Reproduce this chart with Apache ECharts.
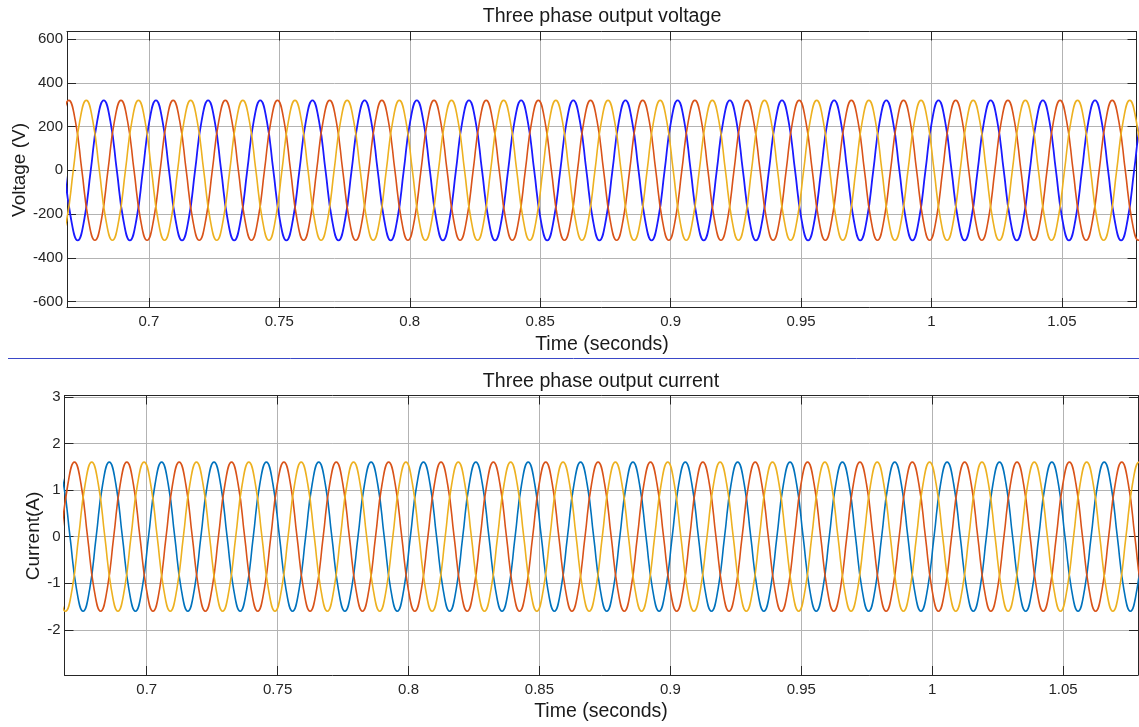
<!DOCTYPE html>
<html>
<head>
<meta charset="utf-8">
<script src="https://cdn.jsdelivr.net/npm/echarts@6/dist/echarts.min.js"></script>
<style>
html,body{margin:0;padding:0;background:#fff;}
#chart{width:1139px;height:727px;}
</style>
</head>
<body>
<div id="chart"></div>
<script>
// ---- Data: [time (s), value] ----
const xTicks = [0.7, 0.75, 0.8, 0.85, 0.9, 0.95, 1, 1.05];
const voltageTicks = [-600, -400, -200, 0, 200, 400, 600];
const currentTicks = [-2, -1, 0, 1, 2, 3];

// Three phase output voltage (V)
const voltageA = [
[0.6677,0],[0.6702,-226],[0.6727,-320],[0.6752,-226],[0.6777,0],[0.6802,226],[0.6827,320],[0.6852,226],
[0.6877,0],[0.6902,-226],[0.6927,-320],[0.6952,-226],[0.6977,0],[0.7002,226],[0.7027,320],[0.7052,226],
[0.7077,0],[0.7102,-226],[0.7127,-320],[0.7152,-226],[0.7177,0],[0.7202,226],[0.7227,320],[0.7252,226],
[0.7277,0],[0.7302,-226],[0.7327,-320],[0.7352,-226],[0.7377,0],[0.7402,226],[0.7427,320],[0.7452,226],
[0.7477,0],[0.7502,-226],[0.7527,-320],[0.7552,-226],[0.7577,0],[0.7602,226],[0.7627,320],[0.7652,226],
[0.7677,0],[0.7702,-226],[0.7727,-320],[0.7752,-226],[0.7777,0],[0.7802,226],[0.7827,320],[0.7852,226],
[0.7877,0],[0.7902,-226],[0.7927,-320],[0.7952,-226],[0.7977,0],[0.8002,226],[0.8027,320],[0.8052,226],
[0.8077,0],[0.8102,-226],[0.8127,-320],[0.8152,-226],[0.8177,0],[0.8202,226],[0.8227,320],[0.8252,226],
[0.8277,0],[0.8302,-226],[0.8327,-320],[0.8352,-226],[0.8377,0],[0.8402,226],[0.8427,320],[0.8452,226],
[0.8477,0],[0.8502,-226],[0.8527,-320],[0.8552,-226],[0.8577,0],[0.8602,226],[0.8627,320],[0.8652,226],
[0.8677,0],[0.8702,-226],[0.8727,-320],[0.8752,-226],[0.8777,0],[0.8802,226],[0.8827,320],[0.8852,226],
[0.8877,0],[0.8902,-226],[0.8927,-320],[0.8952,-226],[0.8977,0],[0.9002,226],[0.9027,320],[0.9052,226],
[0.9077,0],[0.9102,-226],[0.9127,-320],[0.9152,-226],[0.9177,0],[0.9202,226],[0.9227,320],[0.9252,226],
[0.9277,0],[0.9302,-226],[0.9327,-320],[0.9352,-226],[0.9377,0],[0.9402,226],[0.9427,320],[0.9452,226],
[0.9477,0],[0.9502,-226],[0.9527,-320],[0.9552,-226],[0.9577,0],[0.9602,226],[0.9627,320],[0.9652,226],
[0.9677,0],[0.9702,-226],[0.9727,-320],[0.9752,-226],[0.9777,0],[0.9802,226],[0.9827,320],[0.9852,226],
[0.9877,0],[0.9902,-226],[0.9927,-320],[0.9952,-226],[0.9977,0],[1.0002,226],[1.0027,320],[1.0052,226],
[1.0077,0],[1.0102,-226],[1.0127,-320],[1.0152,-226],[1.0177,0],[1.0202,226],[1.0227,320],[1.0252,226],
[1.0277,0],[1.0302,-226],[1.0327,-320],[1.0352,-226],[1.0377,0],[1.0402,226],[1.0427,320],[1.0452,226],
[1.0477,0],[1.0502,-226],[1.0527,-320],[1.0552,-226],[1.0577,0],[1.0602,226],[1.0627,320],[1.0652,226],
[1.0677,0],[1.0702,-226],[1.0727,-320],[1.0752,-226],[1.0777,0],[1.0802,226],[1.0827,320],[1.0852,226]
];
const voltageB = [
[0.6643,0],[0.6668,226],[0.6693,320],[0.6718,226],[0.6743,0],[0.6768,-226],[0.6793,-320],[0.6818,-226],
[0.6843,0],[0.6868,226],[0.6893,320],[0.6918,226],[0.6943,0],[0.6968,-226],[0.6993,-320],[0.7018,-226],
[0.7043,0],[0.7068,226],[0.7093,320],[0.7118,226],[0.7143,0],[0.7168,-226],[0.7193,-320],[0.7218,-226],
[0.7243,0],[0.7268,226],[0.7293,320],[0.7318,226],[0.7343,0],[0.7368,-226],[0.7393,-320],[0.7418,-226],
[0.7443,0],[0.7468,226],[0.7493,320],[0.7518,226],[0.7543,0],[0.7568,-226],[0.7593,-320],[0.7618,-226],
[0.7643,0],[0.7668,226],[0.7693,320],[0.7718,226],[0.7743,0],[0.7768,-226],[0.7793,-320],[0.7818,-226],
[0.7843,0],[0.7868,226],[0.7893,320],[0.7918,226],[0.7943,0],[0.7968,-226],[0.7993,-320],[0.8018,-226],
[0.8043,0],[0.8068,226],[0.8093,320],[0.8118,226],[0.8143,0],[0.8168,-226],[0.8193,-320],[0.8218,-226],
[0.8243,0],[0.8268,226],[0.8293,320],[0.8318,226],[0.8343,0],[0.8368,-226],[0.8393,-320],[0.8418,-226],
[0.8443,0],[0.8468,226],[0.8493,320],[0.8518,226],[0.8543,0],[0.8568,-226],[0.8593,-320],[0.8618,-226],
[0.8643,0],[0.8668,226],[0.8693,320],[0.8718,226],[0.8743,0],[0.8768,-226],[0.8793,-320],[0.8818,-226],
[0.8843,0],[0.8868,226],[0.8893,320],[0.8918,226],[0.8943,0],[0.8968,-226],[0.8993,-320],[0.9018,-226],
[0.9043,0],[0.9068,226],[0.9093,320],[0.9118,226],[0.9143,0],[0.9168,-226],[0.9193,-320],[0.9218,-226],
[0.9243,0],[0.9268,226],[0.9293,320],[0.9318,226],[0.9343,0],[0.9368,-226],[0.9393,-320],[0.9418,-226],
[0.9443,0],[0.9468,226],[0.9493,320],[0.9518,226],[0.9543,0],[0.9568,-226],[0.9593,-320],[0.9618,-226],
[0.9643,0],[0.9668,226],[0.9693,320],[0.9718,226],[0.9743,0],[0.9768,-226],[0.9793,-320],[0.9818,-226],
[0.9843,0],[0.9868,226],[0.9893,320],[0.9918,226],[0.9943,0],[0.9968,-226],[0.9993,-320],[1.0018,-226],
[1.0043,0],[1.0068,226],[1.0093,320],[1.0118,226],[1.0143,0],[1.0168,-226],[1.0193,-320],[1.0218,-226],
[1.0243,0],[1.0268,226],[1.0293,320],[1.0318,226],[1.0343,0],[1.0368,-226],[1.0393,-320],[1.0418,-226],
[1.0443,0],[1.0468,226],[1.0493,320],[1.0518,226],[1.0543,0],[1.0568,-226],[1.0593,-320],[1.0618,-226],
[1.0643,0],[1.0668,226],[1.0693,320],[1.0718,226],[1.0743,0],[1.0768,-226],[1.0793,-320],[1.0818,-226]
];
const voltageC = [
[0.6660,-320],[0.6685,-226],[0.6710,0],[0.6735,226],[0.6760,320],[0.6785,226],[0.6810,0],[0.6835,-226],
[0.6860,-320],[0.6885,-226],[0.6910,0],[0.6935,226],[0.6960,320],[0.6985,226],[0.7010,0],[0.7035,-226],
[0.7060,-320],[0.7085,-226],[0.7110,0],[0.7135,226],[0.7160,320],[0.7185,226],[0.7210,0],[0.7235,-226],
[0.7260,-320],[0.7285,-226],[0.7310,0],[0.7335,226],[0.7360,320],[0.7385,226],[0.7410,0],[0.7435,-226],
[0.7460,-320],[0.7485,-226],[0.7510,0],[0.7535,226],[0.7560,320],[0.7585,226],[0.7610,0],[0.7635,-226],
[0.7660,-320],[0.7685,-226],[0.7710,0],[0.7735,226],[0.7760,320],[0.7785,226],[0.7810,0],[0.7835,-226],
[0.7860,-320],[0.7885,-226],[0.7910,0],[0.7935,226],[0.7960,320],[0.7985,226],[0.8010,0],[0.8035,-226],
[0.8060,-320],[0.8085,-226],[0.8110,0],[0.8135,226],[0.8160,320],[0.8185,226],[0.8210,0],[0.8235,-226],
[0.8260,-320],[0.8285,-226],[0.8310,0],[0.8335,226],[0.8360,320],[0.8385,226],[0.8410,0],[0.8435,-226],
[0.8460,-320],[0.8485,-226],[0.8510,0],[0.8535,226],[0.8560,320],[0.8585,226],[0.8610,0],[0.8635,-226],
[0.8660,-320],[0.8685,-226],[0.8710,0],[0.8735,226],[0.8760,320],[0.8785,226],[0.8810,0],[0.8835,-226],
[0.8860,-320],[0.8885,-226],[0.8910,0],[0.8935,226],[0.8960,320],[0.8985,226],[0.9010,0],[0.9035,-226],
[0.9060,-320],[0.9085,-226],[0.9110,0],[0.9135,226],[0.9160,320],[0.9185,226],[0.9210,0],[0.9235,-226],
[0.9260,-320],[0.9285,-226],[0.9310,0],[0.9335,226],[0.9360,320],[0.9385,226],[0.9410,0],[0.9435,-226],
[0.9460,-320],[0.9485,-226],[0.9510,0],[0.9535,226],[0.9560,320],[0.9585,226],[0.9610,0],[0.9635,-226],
[0.9660,-320],[0.9685,-226],[0.9710,0],[0.9735,226],[0.9760,320],[0.9785,226],[0.9810,0],[0.9835,-226],
[0.9860,-320],[0.9885,-226],[0.9910,0],[0.9935,226],[0.9960,320],[0.9985,226],[1.0010,0],[1.0035,-226],
[1.0060,-320],[1.0085,-226],[1.0110,0],[1.0135,226],[1.0160,320],[1.0185,226],[1.0210,0],[1.0235,-226],
[1.0260,-320],[1.0285,-226],[1.0310,0],[1.0335,226],[1.0360,320],[1.0385,226],[1.0410,0],[1.0435,-226],
[1.0460,-320],[1.0485,-226],[1.0510,0],[1.0535,226],[1.0560,320],[1.0585,226],[1.0610,0],[1.0635,-226],
[1.0660,-320],[1.0685,-226],[1.0710,0],[1.0735,226],[1.0760,320],[1.0785,226],[1.0810,0],[1.0835,-226]
];

// Three phase output current (A)
const currentA = [
[0.6657,1.6],[0.6682,1.13],[0.6707,0],[0.6732,-1.13],[0.6757,-1.6],[0.6782,-1.13],[0.6807,0],[0.6832,1.13],
[0.6857,1.6],[0.6882,1.13],[0.6907,0],[0.6932,-1.13],[0.6957,-1.6],[0.6982,-1.13],[0.7007,0],[0.7032,1.13],
[0.7057,1.6],[0.7082,1.13],[0.7107,0],[0.7132,-1.13],[0.7157,-1.6],[0.7182,-1.13],[0.7207,0],[0.7232,1.13],
[0.7257,1.6],[0.7282,1.13],[0.7307,0],[0.7332,-1.13],[0.7357,-1.6],[0.7382,-1.13],[0.7407,0],[0.7432,1.13],
[0.7457,1.6],[0.7482,1.13],[0.7507,0],[0.7532,-1.13],[0.7557,-1.6],[0.7582,-1.13],[0.7607,0],[0.7632,1.13],
[0.7657,1.6],[0.7682,1.13],[0.7707,0],[0.7732,-1.13],[0.7757,-1.6],[0.7782,-1.13],[0.7807,0],[0.7832,1.13],
[0.7857,1.6],[0.7882,1.13],[0.7907,0],[0.7932,-1.13],[0.7957,-1.6],[0.7982,-1.13],[0.8007,0],[0.8032,1.13],
[0.8057,1.6],[0.8082,1.13],[0.8107,0],[0.8132,-1.13],[0.8157,-1.6],[0.8182,-1.13],[0.8207,0],[0.8232,1.13],
[0.8257,1.6],[0.8282,1.13],[0.8307,0],[0.8332,-1.13],[0.8357,-1.6],[0.8382,-1.13],[0.8407,0],[0.8432,1.13],
[0.8457,1.6],[0.8482,1.13],[0.8507,0],[0.8532,-1.13],[0.8557,-1.6],[0.8582,-1.13],[0.8607,0],[0.8632,1.13],
[0.8657,1.6],[0.8682,1.13],[0.8707,0],[0.8732,-1.13],[0.8757,-1.6],[0.8782,-1.13],[0.8807,0],[0.8832,1.13],
[0.8857,1.6],[0.8882,1.13],[0.8907,0],[0.8932,-1.13],[0.8957,-1.6],[0.8982,-1.13],[0.9007,0],[0.9032,1.13],
[0.9057,1.6],[0.9082,1.13],[0.9107,0],[0.9132,-1.13],[0.9157,-1.6],[0.9182,-1.13],[0.9207,0],[0.9232,1.13],
[0.9257,1.6],[0.9282,1.13],[0.9307,0],[0.9332,-1.13],[0.9357,-1.6],[0.9382,-1.13],[0.9407,0],[0.9432,1.13],
[0.9457,1.6],[0.9482,1.13],[0.9507,0],[0.9532,-1.13],[0.9557,-1.6],[0.9582,-1.13],[0.9607,0],[0.9632,1.13],
[0.9657,1.6],[0.9682,1.13],[0.9707,0],[0.9732,-1.13],[0.9757,-1.6],[0.9782,-1.13],[0.9807,0],[0.9832,1.13],
[0.9857,1.6],[0.9882,1.13],[0.9907,0],[0.9932,-1.13],[0.9957,-1.6],[0.9982,-1.13],[1.0007,0],[1.0032,1.13],
[1.0057,1.6],[1.0082,1.13],[1.0107,0],[1.0132,-1.13],[1.0157,-1.6],[1.0182,-1.13],[1.0207,0],[1.0232,1.13],
[1.0257,1.6],[1.0282,1.13],[1.0307,0],[1.0332,-1.13],[1.0357,-1.6],[1.0382,-1.13],[1.0407,0],[1.0432,1.13],
[1.0457,1.6],[1.0482,1.13],[1.0507,0],[1.0532,-1.13],[1.0557,-1.6],[1.0582,-1.13],[1.0607,0],[1.0632,1.13],
[1.0657,1.6],[1.0682,1.13],[1.0707,0],[1.0732,-1.13],[1.0757,-1.6],[1.0782,-1.13],[1.0807,0],[1.0832,1.13]
];
const currentB = [
[0.6674,0],[0.6699,1.13],[0.6724,1.6],[0.6749,1.13],[0.6774,0],[0.6799,-1.13],[0.6824,-1.6],[0.6849,-1.13],
[0.6874,0],[0.6899,1.13],[0.6924,1.6],[0.6949,1.13],[0.6974,0],[0.6999,-1.13],[0.7024,-1.6],[0.7049,-1.13],
[0.7074,0],[0.7099,1.13],[0.7124,1.6],[0.7149,1.13],[0.7174,0],[0.7199,-1.13],[0.7224,-1.6],[0.7249,-1.13],
[0.7274,0],[0.7299,1.13],[0.7324,1.6],[0.7349,1.13],[0.7374,0],[0.7399,-1.13],[0.7424,-1.6],[0.7449,-1.13],
[0.7474,0],[0.7499,1.13],[0.7524,1.6],[0.7549,1.13],[0.7574,0],[0.7599,-1.13],[0.7624,-1.6],[0.7649,-1.13],
[0.7674,0],[0.7699,1.13],[0.7724,1.6],[0.7749,1.13],[0.7774,0],[0.7799,-1.13],[0.7824,-1.6],[0.7849,-1.13],
[0.7874,0],[0.7899,1.13],[0.7924,1.6],[0.7949,1.13],[0.7974,0],[0.7999,-1.13],[0.8024,-1.6],[0.8049,-1.13],
[0.8074,0],[0.8099,1.13],[0.8124,1.6],[0.8149,1.13],[0.8174,0],[0.8199,-1.13],[0.8224,-1.6],[0.8249,-1.13],
[0.8274,0],[0.8299,1.13],[0.8324,1.6],[0.8349,1.13],[0.8374,0],[0.8399,-1.13],[0.8424,-1.6],[0.8449,-1.13],
[0.8474,0],[0.8499,1.13],[0.8524,1.6],[0.8549,1.13],[0.8574,0],[0.8599,-1.13],[0.8624,-1.6],[0.8649,-1.13],
[0.8674,0],[0.8699,1.13],[0.8724,1.6],[0.8749,1.13],[0.8774,0],[0.8799,-1.13],[0.8824,-1.6],[0.8849,-1.13],
[0.8874,0],[0.8899,1.13],[0.8924,1.6],[0.8949,1.13],[0.8974,0],[0.8999,-1.13],[0.9024,-1.6],[0.9049,-1.13],
[0.9074,0],[0.9099,1.13],[0.9124,1.6],[0.9149,1.13],[0.9174,0],[0.9199,-1.13],[0.9224,-1.6],[0.9249,-1.13],
[0.9274,0],[0.9299,1.13],[0.9324,1.6],[0.9349,1.13],[0.9374,0],[0.9399,-1.13],[0.9424,-1.6],[0.9449,-1.13],
[0.9474,0],[0.9499,1.13],[0.9524,1.6],[0.9549,1.13],[0.9574,0],[0.9599,-1.13],[0.9624,-1.6],[0.9649,-1.13],
[0.9674,0],[0.9699,1.13],[0.9724,1.6],[0.9749,1.13],[0.9774,0],[0.9799,-1.13],[0.9824,-1.6],[0.9849,-1.13],
[0.9874,0],[0.9899,1.13],[0.9924,1.6],[0.9949,1.13],[0.9974,0],[0.9999,-1.13],[1.0024,-1.6],[1.0049,-1.13],
[1.0074,0],[1.0099,1.13],[1.0124,1.6],[1.0149,1.13],[1.0174,0],[1.0199,-1.13],[1.0224,-1.6],[1.0249,-1.13],
[1.0274,0],[1.0299,1.13],[1.0324,1.6],[1.0349,1.13],[1.0374,0],[1.0399,-1.13],[1.0424,-1.6],[1.0449,-1.13],
[1.0474,0],[1.0499,1.13],[1.0524,1.6],[1.0549,1.13],[1.0574,0],[1.0599,-1.13],[1.0624,-1.6],[1.0649,-1.13],
[1.0674,0],[1.0699,1.13],[1.0724,1.6],[1.0749,1.13],[1.0774,0],[1.0799,-1.13],[1.0824,-1.6],[1.0849,-1.13]
];
const currentC = [
[0.6640,0],[0.6665,-1.13],[0.6690,-1.6],[0.6715,-1.13],[0.6740,0],[0.6765,1.13],[0.6790,1.6],[0.6815,1.13],
[0.6840,0],[0.6865,-1.13],[0.6890,-1.6],[0.6915,-1.13],[0.6940,0],[0.6965,1.13],[0.6990,1.6],[0.7015,1.13],
[0.7040,0],[0.7065,-1.13],[0.7090,-1.6],[0.7115,-1.13],[0.7140,0],[0.7165,1.13],[0.7190,1.6],[0.7215,1.13],
[0.7240,0],[0.7265,-1.13],[0.7290,-1.6],[0.7315,-1.13],[0.7340,0],[0.7365,1.13],[0.7390,1.6],[0.7415,1.13],
[0.7440,0],[0.7465,-1.13],[0.7490,-1.6],[0.7515,-1.13],[0.7540,0],[0.7565,1.13],[0.7590,1.6],[0.7615,1.13],
[0.7640,0],[0.7665,-1.13],[0.7690,-1.6],[0.7715,-1.13],[0.7740,0],[0.7765,1.13],[0.7790,1.6],[0.7815,1.13],
[0.7840,0],[0.7865,-1.13],[0.7890,-1.6],[0.7915,-1.13],[0.7940,0],[0.7965,1.13],[0.7990,1.6],[0.8015,1.13],
[0.8040,0],[0.8065,-1.13],[0.8090,-1.6],[0.8115,-1.13],[0.8140,0],[0.8165,1.13],[0.8190,1.6],[0.8215,1.13],
[0.8240,0],[0.8265,-1.13],[0.8290,-1.6],[0.8315,-1.13],[0.8340,0],[0.8365,1.13],[0.8390,1.6],[0.8415,1.13],
[0.8440,0],[0.8465,-1.13],[0.8490,-1.6],[0.8515,-1.13],[0.8540,0],[0.8565,1.13],[0.8590,1.6],[0.8615,1.13],
[0.8640,0],[0.8665,-1.13],[0.8690,-1.6],[0.8715,-1.13],[0.8740,0],[0.8765,1.13],[0.8790,1.6],[0.8815,1.13],
[0.8840,0],[0.8865,-1.13],[0.8890,-1.6],[0.8915,-1.13],[0.8940,0],[0.8965,1.13],[0.8990,1.6],[0.9015,1.13],
[0.9040,0],[0.9065,-1.13],[0.9090,-1.6],[0.9115,-1.13],[0.9140,0],[0.9165,1.13],[0.9190,1.6],[0.9215,1.13],
[0.9240,0],[0.9265,-1.13],[0.9290,-1.6],[0.9315,-1.13],[0.9340,0],[0.9365,1.13],[0.9390,1.6],[0.9415,1.13],
[0.9440,0],[0.9465,-1.13],[0.9490,-1.6],[0.9515,-1.13],[0.9540,0],[0.9565,1.13],[0.9590,1.6],[0.9615,1.13],
[0.9640,0],[0.9665,-1.13],[0.9690,-1.6],[0.9715,-1.13],[0.9740,0],[0.9765,1.13],[0.9790,1.6],[0.9815,1.13],
[0.9840,0],[0.9865,-1.13],[0.9890,-1.6],[0.9915,-1.13],[0.9940,0],[0.9965,1.13],[0.9990,1.6],[1.0015,1.13],
[1.0040,0],[1.0065,-1.13],[1.0090,-1.6],[1.0115,-1.13],[1.0140,0],[1.0165,1.13],[1.0190,1.6],[1.0215,1.13],
[1.0240,0],[1.0265,-1.13],[1.0290,-1.6],[1.0315,-1.13],[1.0340,0],[1.0365,1.13],[1.0390,1.6],[1.0415,1.13],
[1.0440,0],[1.0465,-1.13],[1.0490,-1.6],[1.0515,-1.13],[1.0540,0],[1.0565,1.13],[1.0590,1.6],[1.0615,1.13],
[1.0640,0],[1.0665,-1.13],[1.0690,-1.6],[1.0715,-1.13],[1.0740,0],[1.0765,1.13],[1.0790,1.6],[1.0815,1.13]
];

// ---- Chart ----
const FONT = '"Liberation Sans", Arial, Helvetica, sans-serif';
const DARK = '#262626';
const GRIDC = '#b3b3b3';
const X_MIN = 0.6686, X_MAX = 1.0786;

function xAxisDef(gridIndex, main) {
  return {
    type: 'value', gridIndex: gridIndex, position: main ? 'bottom' : 'top',
    min: X_MIN, max: X_MAX,
    axisLine: { show: true, onZero: false, lineStyle: { color: DARK, width: 1 } },
    axisTick: { show: true, inside: true, length: 9, customValues: xTicks, lineStyle: { color: DARK, width: 1 } },
    axisLabel: { show: main, customValues: xTicks, color: DARK, fontSize: 15, fontFamily: FONT, margin: 7,
      formatter: v => String(+(+v).toFixed(4)) },
    splitLine: { show: main, lineStyle: { color: GRIDC, width: 1 } }
  };
}
function yAxisDef(gridIndex, main, ticks, mn, mx) {
  return {
    type: 'value', gridIndex: gridIndex, position: main ? 'left' : 'right',
    min: mn, max: mx,
    axisLine: { show: true, onZero: false, lineStyle: { color: DARK, width: 1 } },
    axisTick: { show: true, inside: true, length: 9, customValues: ticks, lineStyle: { color: DARK, width: 1 } },
    axisLabel: { show: main, customValues: ticks, color: DARK, fontSize: 15, fontFamily: FONT, margin: 4 },
    splitLine: { show: main, lineStyle: { color: GRIDC, width: 1 } }
  };
}
function lineSeries(name, data, xi, yi, color, width) {
  return {
    name: name, type: 'line', xAxisIndex: xi, yAxisIndex: yi, data: data,
    showSymbol: false, smooth: 0.5, clip: true, silent: true,
    lineStyle: { color: color, width: width }
  };
}
function txt(text, x, y, rot, size) {
  return { type: 'text', x: x, y: y, rotation: rot || 0, silent: true,
    style: { text: text, fontSize: size || 19, fontFamily: FONT, fill: '#1a1a1a',
      textAlign: 'center', textVerticalAlign: 'middle' } };
}

const chart = echarts.init(document.getElementById('chart'), null, { renderer: 'canvas' });
chart.setOption({
  animation: false,
  backgroundColor: '#ffffff',
  grid: [
    { left: 67, right: 2.5, top: 31.5, height: 275.5 },
    { left: 64.5, right: 1, top: 395.5, height: 279.5 }
  ],
  xAxis: [ xAxisDef(0, true), xAxisDef(1, true), xAxisDef(0, false), xAxisDef(1, false) ],
  yAxis: [
    yAxisDef(0, true, voltageTicks, -625, 635),
    yAxisDef(1, true, currentTicks, -2.97, 3.03),
    yAxisDef(0, false, voltageTicks, -625, 635),
    yAxisDef(1, false, currentTicks, -2.97, 3.03)
  ],
  series: [
    lineSeries('Va', voltageA, 0, 0, '#1a1aff', 1.8),
    lineSeries('Vb', voltageB, 0, 0, '#d95319', 1.6),
    lineSeries('Vc', voltageC, 0, 0, '#edb120', 1.6),
    lineSeries('Ia', currentA, 1, 1, '#0072bd', 1.6),
    lineSeries('Ib', currentB, 1, 1, '#d95319', 1.6),
    lineSeries('Ic', currentC, 1, 1, '#edb120', 1.6)
  ],
  graphic: [
    txt('Three phase output voltage', 602, 17, 0, 19.6),
    txt('Time (seconds)', 602, 345, 0, 19.5),
    txt('Voltage (V)', 20, 170, Math.PI / 2),
    txt('Three phase output current', 601, 382, 0, 19.6),
    txt('Time (seconds)', 601, 712, 0, 19.5),
    txt('Current(A)', 34, 536, Math.PI / 2),
    { type: 'line', silent: true, shape: { x1: 8, y1: 358.5, x2: 1139, y2: 358.5 },
      style: { stroke: '#3a48c8', lineWidth: 1 } }
  ]
});
</script>
</body>
</html>
